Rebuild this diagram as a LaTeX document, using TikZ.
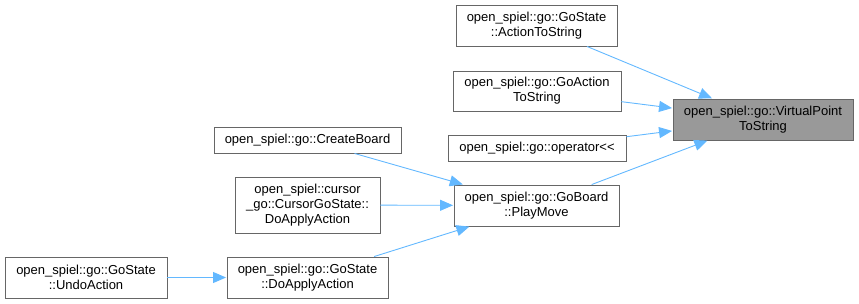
\documentclass[tikz,border=0pt]{standalone}
\usepackage{fontspec}
\setmainfont{Liberation Sans}
\usetikzlibrary{arrows.meta}
\definecolor{edgeblue}{HTML}{63B8FF}
\definecolor{boxline}{HTML}{666666}
\definecolor{boxfill}{HTML}{999999}
\begin{document}
\begin{tikzpicture}[x=1pt,y=-1pt,
  fn/.style={draw=boxline,line width=0.9pt,fill=white,rectangle,align=center,
    inner sep=0pt,font=\fontsize{13}{15}\selectfont},
  cur/.style={fn,fill=boxfill},
  call/.style={draw=edgeblue,line width=0.9pt,-{Triangle[length=13pt,width=11pt]},shorten >=0.5pt}]
\useasboundingbox (0,0) rectangle (859,303);
% function boxes: corners taken as (left,top) to (right,bottom)
\newcommand{\fnbox}[6]{%
  \node[#1,minimum width={#4-#2},minimum height={#5-#3}] (#6) at ({(#2+#4)/2},{(#3+#5)/2})}
\fnbox{cur}{673}{99}{853}{140}{vpts} {open\_spiel::go::VirtualPoint\\ToString};
\fnbox{fn}{456}{5}{617}{46}{ats} {open\_spiel::go::GoState\\::ActionToString};
\fnbox{fn}{453}{71}{621}{111}{gats} {open\_spiel::go::GoAction\\ToString};
\fnbox{fn}{448}{135}{626}{161}{opout} {open\_spiel::go::operator<{}<};
\fnbox{fn}{454}{185}{619}{226}{play} {open\_spiel::go::GoBoard\\::PlayMove};
\fnbox{fn}{214}{127}{401}{153}{create} {open\_spiel::go::CreateBoard};
\fnbox{fn}{235}{177}{380}{233}{cursor} {open\_spiel::cursor\\\_go::CursorGoState::\\DoApplyAction};
\fnbox{fn}{227}{257}{388}{298}{doapply} {open\_spiel::go::GoState\\::DoApplyAction};
\fnbox{fn}{5}{257}{167}{298}{undo} {open\_spiel::go::GoState\\::UndoAction};
% call edges
\draw[call] (ats) -- (vpts);
\draw[call] (gats) -- (vpts);
\draw[call] (opout) -- (vpts);
\draw[call] (play) -- (vpts);
\draw[call] (create) -- (play);
\draw[call] (cursor) -- (play);
\draw[call] (doapply) -- (play);
\draw[call] (undo) -- (doapply);
\end{tikzpicture}
\end{document}
